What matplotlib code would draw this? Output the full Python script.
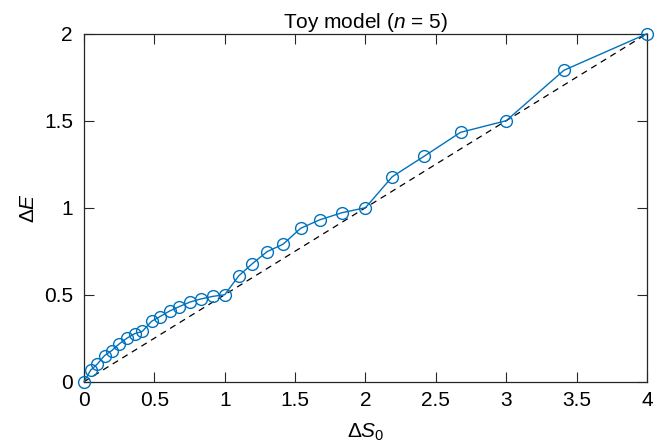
import numpy as np
import matplotlib

matplotlib.use("Agg")
import matplotlib.pyplot as plt

plt.rcParams["font.family"] = ["Liberation Sans", "DejaVu Sans"]
plt.rcParams["mathtext.fontset"] = "custom"
plt.rcParams["mathtext.rm"] = "Liberation Sans"
plt.rcParams["mathtext.it"] = "Liberation Sans:italic"

# toy model, n = 5
delta_s0 = [
    0.0, 0.047, 0.095, 0.146, 0.196, 0.25, 0.305, 0.36, 0.414, 0.48,
    0.539, 0.61, 0.678, 0.754, 0.828, 0.913, 1.0,
    1.099, 1.194, 1.30, 1.414, 1.54, 1.674, 1.832, 2.0,
    2.19, 2.415, 2.675, 3.0,
    3.41, 4.0,
]
delta_e = [
    0.0, 0.066, 0.102, 0.15, 0.178, 0.217, 0.25, 0.276, 0.289, 0.347,
    0.374, 0.407, 0.432, 0.458, 0.475, 0.49, 0.5,
    0.608, 0.677, 0.747, 0.79, 0.882, 0.93, 0.971, 1.0,
    1.178, 1.295, 1.433, 1.5,
    1.79, 2.0,
]
ref_x = [0, 4]
ref_y = [0, 2]

xticks = [0, 0.5, 1, 1.5, 2, 2.5, 3, 3.5, 4]
xtick_labels = ["0", "0.5", "1", "1.5", "2", "2.5", "3", "3.5", "4"]
yticks = [0, 0.5, 1, 1.5, 2]
ytick_labels = ["0", "0.5", "1", "1.5", "2"]

fig = plt.figure(figsize=(6.64, 4.47), dpi=100)
ax = fig.add_axes([0.1265, 0.1461, 0.8479, 0.7785])

ax.plot(ref_x, ref_y, "--", color="black", lw=0.9, dashes=(5, 4))
ax.plot(delta_s0, delta_e, "-o", color="#0072BD", lw=1.0,
        markersize=8.5, markerfacecolor="none", markeredgewidth=1.0,
        clip_on=False, zorder=3)

ax.set_xlim(0, 4)
ax.set_ylim(0, 2)
ax.set_xticks(xticks)
ax.set_xticklabels(xtick_labels)
ax.set_yticks(yticks)
ax.set_yticklabels(ytick_labels)
ax.tick_params(direction="in", length=7, width=0.8, top=True, right=True,
               labelsize=15, colors="#262626", labelcolor="black")
ax.tick_params(axis="x", pad=7)
ax.tick_params(axis="y", pad=8)
for s in ax.spines.values():
    s.set_linewidth(0.9)
    s.set_color("#262626")

ax.set_title("Toy model ($n$ = 5)", fontsize=15, pad=4)
ax.set_xlabel(r"$\Delta S_0$", fontsize=15, labelpad=8)
ax.set_ylabel(r"$\Delta E$", fontsize=15, labelpad=4)

fig.savefig("out.png", dpi=100)
